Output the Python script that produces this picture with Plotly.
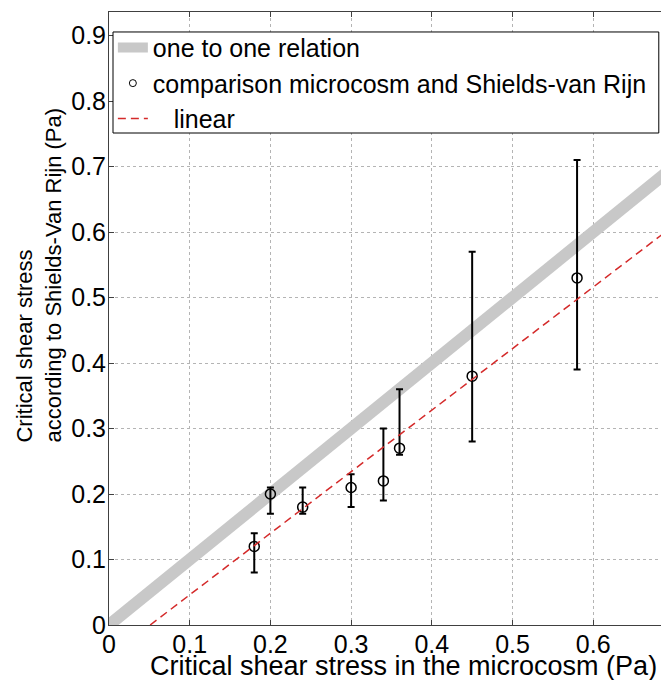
import plotly.graph_objects as go

# Data
x_micro = [0.18, 0.20, 0.24, 0.30, 0.34, 0.36, 0.45, 0.58]
y_shields = [0.12, 0.20, 0.18, 0.21, 0.22, 0.27, 0.38, 0.53]
y_low = [0.08, 0.17, 0.17, 0.18, 0.19, 0.26, 0.28, 0.39]
y_high = [0.14, 0.21, 0.21, 0.23, 0.30, 0.36, 0.57, 0.71]

one_x = [0.0, 0.7]
one_y = [0.0, 0.7]

lin_x = [0.051, 0.7]
lin_y = [0.0, 0.61]

x_ticks = [0, 0.1, 0.2, 0.3, 0.4, 0.5, 0.6]
x_ticklabels = ["0", "0.1", "0.2", "0.3", "0.4", "0.5", "0.6"]
y_ticks = [0, 0.1, 0.2, 0.3, 0.4, 0.5, 0.6, 0.7, 0.8, 0.9]
y_ticklabels = ["0", "0.1", "0.2", "0.3", "0.4", "0.5", "0.6", "0.7", "0.8", "0.9"]

err_plus = [h - y for h, y in zip(y_high, y_shields)]
err_minus = [y - l for l, y in zip(y_low, y_shields)]

FONT = "Liberation Sans, Arial, sans-serif"

fig = go.Figure()
fig.add_trace(go.Scatter(
    x=one_x, y=one_y, mode="lines", name="one to one relation",
    line=dict(color="#c8c8c8", width=12),
))
fig.add_trace(go.Scatter(
    x=x_micro, y=y_shields, mode="markers", showlegend=False,
    name="comparison microcosm and Shields-van Rijn",
    marker=dict(symbol="circle-open", size=10, color="black", line=dict(width=1.5, color="black")),
    error_y=dict(type="data", symmetric=False, array=err_plus, arrayminus=err_minus,
                 color="black", thickness=2, width=3.5),
))
# legend-only entry with the smaller legend glyph
fig.add_trace(go.Scatter(
    x=[None], y=[None], mode="markers",
    name="comparison microcosm and Shields-van Rijn",
    marker=dict(symbol="circle-open", size=7, color="black", line=dict(width=1, color="black")),
))
fig.add_trace(go.Scatter(
    x=lin_x, y=lin_y, mode="lines", name="\u00a0\u00a0\u00a0linear",
    line=dict(color="#d42a2a", width=1.5, dash="8px,5px"),
))

fig.update_layout(
    width=661, height=680,
    margin=dict(l=109, r=0, t=12, b=55),
    paper_bgcolor="white", plot_bgcolor="white",
    font=dict(family=FONT, size=24, color="black"),
    showlegend=True,
    legend=dict(
        x=0.007, y=0.979, xanchor="left", yanchor="top",
        bgcolor="rgba(0,0,0,0)", borderwidth=0,
        font=dict(family=FONT, size=25, color="black"),
        tracegroupgap=0, itemwidth=30,
    ),
    shapes=[
        dict(type="rect", xref="paper", yref="paper", x0=0.00725, x1=0.996, y0=0.8026, y1=0.9674,
             fillcolor="white", line=dict(color="black", width=1), layer="above"),
    ],
    annotations=[
        dict(text="Critical shear stress in the microcosm (Pa)", xref="paper", yref="paper",
             x=0.5335, y=-0.067, xanchor="center", yanchor="middle", showarrow=False,
             font=dict(family=FONT, size=27, color="black")),
        dict(text="Critical shear stress<br>according to Shields-Van Rijn (Pa)", xref="paper", yref="paper",
             x=-0.127, y=0.5715, xanchor="center", yanchor="middle", showarrow=False, textangle=-90,
             align="left", font=dict(family=FONT, size=22, color="black")),
    ],
)
fig.update_xaxes(
    range=[0, 0.684], tickmode="array", tickvals=x_ticks, ticktext=x_ticklabels,
    showgrid=True, gridcolor="#b4b4b4", griddash="dot", gridwidth=1,
    showline=True, linecolor="#404040", linewidth=1, mirror="ticks",
    ticks="inside", ticklen=5, tickcolor="#404040",
    zeroline=False, automargin=False, ticklabelstandoff=-3,
    tickfont=dict(family=FONT, size=25),
)
fig.update_yaxes(
    range=[0, 0.936], tickmode="array", tickvals=y_ticks, ticktext=y_ticklabels,
    showgrid=True, gridcolor="#b4b4b4", griddash="dot", gridwidth=1,
    showline=True, linecolor="#404040", linewidth=1,
    ticks="inside", ticklen=5, tickcolor="#404040",
    zeroline=False, automargin=False, ticklabelstandoff=-3,
    tickfont=dict(family=FONT, size=25),
)

fig.write_html("out.html", config={"displayModeBar": False},
               post_script="document.body.style.margin='0';document.body.style.overflow='hidden';")
